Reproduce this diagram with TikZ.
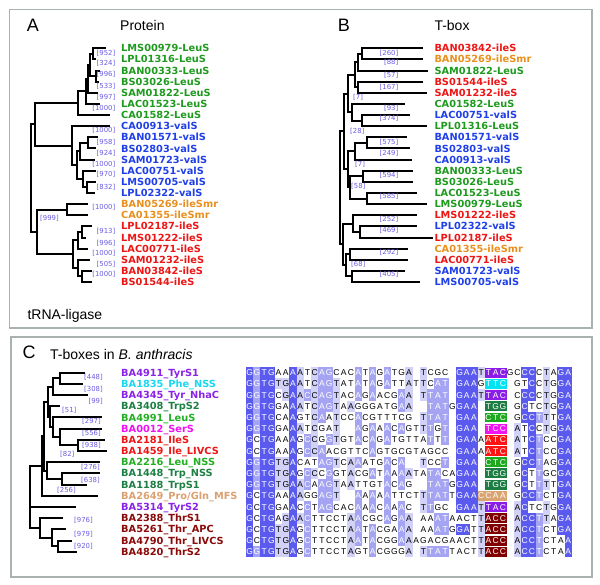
\documentclass[tikz,border=0pt]{standalone}
\usepackage{fontspec}
\setmainfont{Liberation Sans}
\newfontfamily\lblfont{DejaVu Sans}
\usepackage{xstring}

\definecolor{framegray}{HTML}{A9B1B1}
\definecolor{leucol}{HTML}{1E9A1E}
\definecolor{leuccol}{HTML}{22B022}
\definecolor{valcol}{HTML}{1F3FE8}
\definecolor{ilecol}{HTML}{EE1515}
\definecolor{smrcol}{HTML}{E8901E}
\definecolor{bscol}{HTML}{6A5CE0}
\definecolor{tyrcol}{HTML}{8A22E8}
\definecolor{phecol}{HTML}{18D8F0}
\definecolor{trpcol}{HTML}{1E7F44}
\definecolor{sercol}{HTML}{F010F0}
\definecolor{procol}{HTML}{DCA070}
\definecolor{thrcol}{HTML}{8B0A0A}
\definecolor{tyrbox}{HTML}{8A1EE6}
\definecolor{phebox}{HTML}{00E4F4}
\definecolor{trpbox}{HTML}{1C7D42}
\definecolor{leubox}{HTML}{1EAA1E}
\definecolor{serbox}{HTML}{F014F0}
\definecolor{ilebox}{HTML}{FF1414}
\definecolor{probox}{HTML}{D9A470}
\definecolor{thrbox}{HTML}{800000}
\definecolor{lev1}{HTML}{D2D2F8}
\definecolor{lev2}{HTML}{A4A4F2}
\definecolor{lev3}{HTML}{5A5AEE}

\newcount\cntA \newcount\cntC \newcount\cntG \newcount\cntT \newcount\cntmax

\newcommand\lblsize{\lblfont\bfseries\fontsize{9.8}{10}\selectfont}
\newcommand\bssize{\lblfont\fontsize{6.9}{7}\selectfont}
\newcommand\alnsize{\fontsize{8.5}{9}\selectfont}
\newcommand\headsize{\fontsize{14}{16}\selectfont}
\newcommand\panelsize{\fontsize{18}{20}\selectfont}

% T-box alignment: sequence / anticodon box colour / first anticodon column
\newcommand\tboxrows{%
GGTGAAAATCAGCACATAGATGA-TCGC-GAATTACGCCCCTAGA/tyrbox/34,%
GGTGTGAATCAGTATATAGATTATTCAT-GAAGTTC-GTCCTGGA/phebox/34,%
GGTGCGAACCAGTACAGAACGAA-TTAT-GAATTAC-CCCCTGGA/tyrbox/34,%
GGTGGAAATCAGTAAGGGATGAA--TATGGAA-TGG-GCTCTGGA/trpbox/34,%
GGTGCAAGTCAATCCACGTTTCG-TTAT-GAA-CTC-GCCTTTGA/leubox/34,%
GGTGGAAATCGAT--AGAAACAGTTTGT-GAA-TCC-ATCCTGGA/serbox/34,%
GCTGAAAGCCGGTGTACAGATGTTATTT-GAAAATC-ATCTCCGA/ilebox/34,%
GCTGAAAGCCAACGTTCAGTGCGTAGCC-GAAAATC-ATCTCCGA/ilebox/34,%
GGTGTGACATAGTCAAATGACA--TCCT-GAA-CTC-GCCTAGGA/leubox/34,%
GGTGTGAGCCCGGTACGATAAAATATACAGAA-TGG-GCTTGCGA/trpbox/34,%
GGTGTGAACAAGTAATTGTACAG--TATGGAA-TGG-GCTTTTGA/trpbox/34,%
GCTGAAAAGGAGT--AAAAATTCTTTATTGAACCAA-GCCTCTGA/probox/33,%
GCTGGAACCTAGCACAAACAAAC-TTGC-GAATTAC-ACTCTGGA/tyrbox/34,%
GCTGAGAACTTCCTAACGCAGAA-AAATAACTTACC-ACCTTAGA/thrbox/34,%
GCTGTGAGCTTCCTAATACGAAA-AAATGGATTACC-ACCTCTGA/thrbox/34,%
GCTGTGAGCTTCCTAATACGGAAAGACGAACTTACC-ACCTCTAA/thrbox/34,%
GGTGTGAGCTTCCTAGTACGGGA-TTATTACTTACC-ACCTCTAA/thrbox/34}

\tikzset{
  frame/.style={draw=framegray, line width=1.2pt},
  br/.style={line width=2pt, line join=miter},
  lbl/.style={font=\lblsize, anchor=west, inner sep=0pt, text height=7.1pt, text depth=0pt},
  bs/.style={font=\bssize, text=bscol, inner sep=0pt, text height=5pt, text depth=0pt},
  head/.style={font=\headsize, anchor=base west, inner sep=0pt},
  panel/.style={font=\panelsize, anchor=base west, inner sep=0pt},
  alnch/.style={font=\alnsize, inner sep=0pt, text height=6.1pt, text depth=0pt},
}

\begin{document}
\begin{tikzpicture}[x=1pt,y=-1pt]
\useasboundingbox (0,0) rectangle (600,585);

% Panel frames
\draw[frame] (9.5,9.5) rectangle (592,328);
\draw[frame] (11,337) rectangle (592,577);

% Titles
\node[panel] (titA) at (26.7,31.7) {A};
\node[head] (hdA) at (120,30.7) {Protein};
\node[panel] (titB) at (337.7,31.7) {B};
\node[head] (hdB) at (434.3,30.7) {T-box};
\node[head] (hdL) at (27.3,319.5) {tRNA-ligase};
\node[panel] (titC) at (22.3,358.3) {C};
\node[head] (hdC) at (50,359.3) {T-boxes in \textit{B. anthracis}};

% Panel A: protein tree, leaves
\foreach \i/\tx/\txt/\cl in {1/106/LMS00979-LeuS/leucol, 2/96/LPL01316-LeuS/leucol,
    3/100/BAN00333-LeuS/leucol, 4/99/BS03026-LeuS/leucol, 5/98/SAM01822-LeuS/leucol,
    6/100/LAC01523-LeuS/leucol, 7/110/CA01582-LeuS/leucol, 8/110/CA00913-valS/valcol,
    9/98/BAN01571-valS/valcol, 10/96/BS02803-valS/valcol, 11/95/SAM01723-valS/valcol,
    12/96/LAC00751-valS/valcol, 13/96/LMS00705-valS/valcol, 14/95/LPL02322-valS/valcol,
    15/88/BAN05269-ileSmr/smrcol, 16/88/CA01355-ileSmr/smrcol, 17/92/LPL02187-ileS/ilecol,
    18/86/LMS01222-ileS/ilecol, 19/88/LAC00771-ileS/ilecol, 20/90/SAM01232-ileS/ilecol,
    21/92/BAN03842-ileS/ilecol, 22/92/BS01544-ileS/ilecol}{
  \pgfmathsetmacro\yy{48.3+11.13*(\i-1)}
  \coordinate (ta\i) at (\tx,\yy);
  \node[lbl, text=\cl] (la\i) at (121,\yy) {\txt};
}

% Panel A: inner nodes
\coordinate (na1) at (93,53.9);
\coordinate (na2) at (96,76.2);
\coordinate (na3) at (90,65.0);
\coordinate (na4) at (88,78.9);
\coordinate (na5) at (86,91.4);
\coordinate (na6) at (78,103.3);
\coordinate (nv1) at (88,142.9);
\coordinate (nv2) at (80,151.2);
\coordinate (nv3) at (87,187.4);
\coordinate (nv4) at (83,179.1);
\coordinate (nv5) at (77,165.1);
\coordinate (nv6) at (72,145.7);
\coordinate (nlv) at (35,124.5);
\coordinate (ns1) at (67,209.7);
\coordinate (ni1) at (82,232.0);
\coordinate (ni2) at (78,240.3);
\coordinate (ni3) at (82,276.4);
\coordinate (ni4) at (78,268.1);
\coordinate (ni5) at (73,254.2);
\coordinate (nil) at (37,232.0);
\coordinate (nra) at (31,178.3);

\foreach \p/\q in {na1/ta1, na1/ta2, na2/ta3, na2/ta4, na3/na1, na3/na2, na4/na3, na4/ta5,
    na5/na4, na5/ta6, na6/na5, na6/ta7, nv1/ta9, nv1/ta10, nv2/nv1, nv2/ta11, nv3/ta13,
    nv3/ta14, nv4/ta12, nv4/nv3, nv5/nv2, nv5/nv4, nv6/ta8, nv6/nv5, nlv/na6, nlv/nv6,
    ns1/ta15, ns1/ta16, ni1/ta17, ni1/ta18, ni2/ni1, ni2/ta19, ni3/ta21, ni3/ta22,
    ni4/ta20, ni4/ni3, ni5/ni2, ni5/ni4, nil/ns1, nil/ni5, nra/nlv, nra/nil}
  \draw[br] (\p) |- (\q);

% Panel A: bootstrap values
\foreach \v/\yy [count=\k] in {952/53.3, 324/63.3, 996/74, 533/86, 997/97.3, 1000/108.3,
    1000/130, 958/141.7, 924/152.7, 1000/164.3, 970/174, 832/186.7, 1000/206.7,
    913/230.7, 996/243.3, 1000/253.3, 505/264, 1000/274.3}
  \node[bs, anchor=east] (bsa\k) at (115.5,\yy) {[\v]};
\node[bs, anchor=west] (bsa19) at (40,218.3) {[999]};

% Panel B: T-box tree, leaves
\foreach \i/\tx/\txt/\cl in {1/423/BAN03842-ileS/ilecol, 2/423/BAN05269-ileSmr/smrcol,
    3/428/SAM01822-LeuS/leucol, 4/423/BS01544-ileS/ilecol, 5/427/SAM01232-ileS/ilecol,
    6/405/CA01582-LeuS/leucol, 7/410/LAC00751-valS/valcol, 8/427/LPL01316-LeuS/leucol,
    9/407/BAN01571-valS/valcol, 10/410/BS02803-valS/valcol, 11/412/CA00913-valS/valcol,
    12/413/BAN00333-LeuS/leucol, 13/413/BS03026-LeuS/leucol, 14/417/LAC01523-LeuS/leucol,
    15/427/LMS00979-LeuS/leucol, 16/417/LMS01222-ileS/ilecol, 17/417/LPL02322-valS/valcol,
    18/433/LPL02187-ileS/ilecol, 19/408/CA01355-ileSmr/smrcol, 20/408/LAC00771-ileS/ilecol,
    21/405/SAM01723-valS/valcol, 22/420/LMS00705-valS/valcol}{
  \pgfmathsetmacro\yy{48.3+11.13*(\i-1)}
  \coordinate (tb\i) at (\tx,\yy);
  \node[lbl, text=\cl] (lb\i) at (434.3,\yy) {\txt};
}

% Panel B: inner nodes
\coordinate (b1) at (362,53.9);
\coordinate (b2) at (358,62.2);
\coordinate (b3) at (358,87.3);
\coordinate (b4) at (355,74.8);
\coordinate (b5) at (362,120.7);
\coordinate (b6) at (352,112.3);
\coordinate (b7) at (348,93.6);
\coordinate (b8) at (367,142.9);
\coordinate (b9) at (355,151.2);
\coordinate (b10) at (363,176.3);
\coordinate (b11) at (367,198.6);
\coordinate (b12) at (350,187.4);
\coordinate (b13) at (348,169.3);
\coordinate (b14) at (344,131.5);
\coordinate (b15) at (360,232.0);
\coordinate (b16) at (353,223.6);
\coordinate (b17) at (350,254.2);
\coordinate (b18) at (352,276.4);
\coordinate (b19) at (346,265.3);
\coordinate (b20) at (343,244.5);
\coordinate (b21) at (340,188.0);

\foreach \p/\q in {b1/tb1, b1/tb2, b2/b1, b2/tb3, b3/tb4, b3/tb5, b4/b2, b4/b3, b5/tb7,
    b5/tb8, b6/tb6, b6/b5, b7/b4, b7/b6, b8/tb9, b8/tb10, b9/b8, b9/tb11, b10/tb12,
    b10/tb13, b11/tb14, b11/tb15, b12/b10, b12/b11, b13/b9, b13/b12, b14/b7, b14/b13,
    b15/tb17, b15/tb18, b16/tb16, b16/b15, b17/tb19, b17/tb20, b18/tb21, b18/tb22,
    b19/b17, b19/b18, b20/b16, b20/b19, b21/b14, b21/b20}
  \draw[br] (\p) |- (\q);

% Panel B: bootstrap values
\foreach \v/\yy [count=\k] in {260/52.7, 88/62.3, 57/75, 167/86.7, 93/108.3, 374/118.3,
    575/141.7, 249/152.7, 594/175, 585/196.5, 252/219.3, 469/230, 292/252.3, 405/274}
  \node[bs, anchor=east] (bsb\k) at (398.5,\yy) {[\v]};
\foreach \v/\xx/\yy [count=\k from 15] in {7/353/97.3, 28/350/130.7, 7/355/164,
    58/351/185.7, 68/351/264.3}
  \node[bs, anchor=west] (bsb\k) at (\xx,\yy) {[\v]};

% Panel C: T-box tree, leaves
\foreach \i/\tx/\txt/\cl in {1/85/BA4911\_TyrS1/tyrcol, 2/83/BA1835\_Phe\_NSS/phecol,
    3/88/BA4345\_Tyr\_NhaC/tyrcol, 4/60/BA3408\_TrpS2/trpcol, 5/102/BA4991\_LeuS/leuccol,
    6/102/BA0012\_SerS/sercol, 7/105/BA2181\_IleS/ilecol, 8/107/BA1459\_Ile\_LIVCS/ilecol,
    9/100/BA2216\_Leu\_NSS/leuccol, 10/100/BA1448\_Trp\_NSS/trpcol,
    11/87/BA1188\_TrpS1/trpcol, 12/98/{BA2649\_Pro/Gln\_MFS}/procol,
    13/76/BA5314\_TyrS2/tyrcol, 14/63/BA2388\_ThrS1/thrcol, 15/66/BA5261\_Thr\_APC/thrcol,
    16/72/BA4790\_Thr\_LIVCS/thrcol, 17/77/BA4820\_ThrS2/thrcol}{
  \pgfmathsetmacro\yy{372.7+11.19*(\i-1)}
  \coordinate (tc\i) at (\tx,\yy);
  \node[lbl, text=\cl] (lc\i) at (121,\yy) {\txt};
}

% Panel C: inner nodes
\coordinate (c1) at (60,378.3);
\coordinate (c2) at (53,386.7);
\coordinate (c5) at (78,445.4);
\coordinate (c6) at (60,437.1);
\coordinate (c7) at (53,427.3);
\coordinate (c8) at (50,416.8);
\coordinate (c3) at (48,401.8);
\coordinate (c10) at (62,479.0);
\coordinate (c11) at (47,470.6);
\coordinate (c4) at (44,436.2);
\coordinate (c12) at (42,466.0);
\coordinate (c15) at (58,546.2);
\coordinate (c14) at (52,537.8);
\coordinate (cthr) at (40,528.0);
\coordinate (cr) at (30,497.0);

\foreach \p/\q in {c1/tc1, c1/tc2, c2/c1, c2/tc3, c5/tc7, c5/tc8, c6/tc6, c6/c5, c7/tc5,
    c7/c6, c8/tc4, c8/c7, c3/c2, c3/c8, c10/tc10, c10/tc11, c11/tc9, c11/c10, c4/c3,
    c4/c11, c12/c4, c12/tc12, c15/tc16, c15/tc17, c14/tc15, c14/c15, cthr/tc14, cthr/c14,
    cr/c12, cr/tc13, cr/cthr}
  \draw[br] (\p) |- (\q);

% Panel C: bootstrap values
\foreach \v/\xx/\yy [count=\k] in {448/103/376.7, 308/103/389.3, 99/103/400.7,
    297/101/420.7, 556/101/433.3, 938/101/445, 276/100/466.7, 638/100/480,
    976/93/520, 979/93/534, 920/93/545.7}
  \node[bs, anchor=east] (bsc\k) at (\xx,\yy) {[\v]};
\foreach \v/\xx/\yy [count=\k from 12] in {51/62/410, 82/60/454, 256/57/490}
  \node[bs, anchor=west] (bsc\k) at (\xx,\yy) {[\v]};

% Alignment: consensus letter and identity level of every column
\foreach \c in {1,...,45}{%
  \global\cntA=0 \global\cntC=0 \global\cntG=0 \global\cntT=0
  \foreach \s/\ac/\acs in \tboxrows{%
    \StrChar{\s}{\c}[\ch]%
    \if A\ch\global\advance\cntA by 1 \fi
    \if C\ch\global\advance\cntC by 1 \fi
    \if G\ch\global\advance\cntG by 1 \fi
    \if T\ch\global\advance\cntT by 1 \fi
  }%
  \def\best{A}\cntmax=\cntA
  \ifnum\cntC>\cntmax \cntmax=\cntC \def\best{C}\fi
  \ifnum\cntG>\cntmax \cntmax=\cntG \def\best{G}\fi
  \ifnum\cntT>\cntmax \cntmax=\cntT \def\best{T}\fi
  \expandafter\xdef\csname cons\c\endcsname{\best}%
  \expandafter\xdef\csname lev\c\endcsname{\ifnum\cntmax>12 3\else\ifnum\cntmax>9 2\else\ifnum\cntmax>6 1\else 0\fi\fi\fi}%
}

% Alignment: shaded cells, anticodon boxes and letters
\foreach \s/\ac/\acs [count=\r] in \tboxrows{%
  \pgfmathsetmacro\yy{372.7+11.19*(\r-1)}%
  \foreach \c in {1,...,45}{%
    \StrChar{\s}{\c}[\ch]%
    \pgfmathsetmacro\xx{246+7.24*(\c-1)}%
    \edef\cs{\csname cons\c\endcsname}%
    \edef\lv{\csname lev\c\endcsname}%
    \def\tc{black}%
    \ifnum\c<\acs\relax\def\inac{0}\else\ifnum\c>36 \def\inac{0}\else\def\inac{1}\fi\fi
    \if\ch-\else
      \ifnum\inac=1
        \fill[\ac] (\xx,\yy-4.95) rectangle +(7.24,9.9);
        \def\tc{white}%
      \else
        \if\ch\cs\ifnum\lv>0
          \fill[lev\lv] (\xx,\yy-5.6) rectangle +(7.24,11.19);
          \ifnum\lv>1 \def\tc{white}\fi
        \fi\fi
      \fi
      \node[alnch, text=\tc] (al\r-\c) at (\xx+3.62,\yy) {\ch};
    \fi
  }%
}
\end{tikzpicture}
\end{document}
